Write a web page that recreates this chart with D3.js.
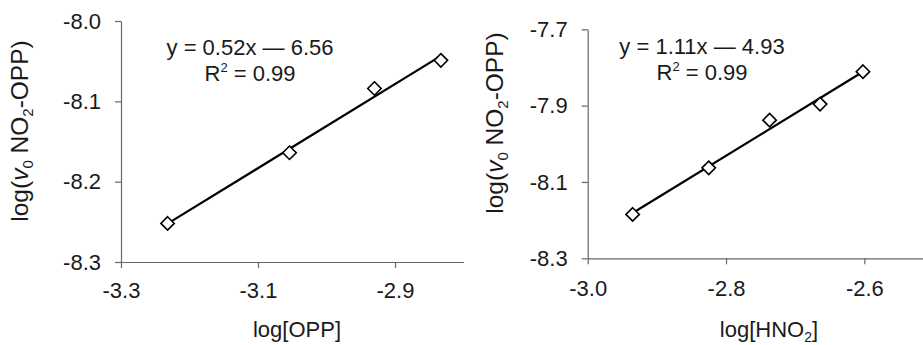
<!DOCTYPE html>
<html>
<head>
<meta charset="utf-8">
<script src="https://cdn.jsdelivr.net/npm/d3@7"></script>
<style>
  body { margin: 0; background: #fff; }
  text { font-family: "Liberation Sans", Arial, sans-serif; fill: #1a1a1a; }
  .axis path, .axis line { stroke: #666; stroke-width: 1.2; }
  .axis text { font-size: 22px; }
</style>
</head>
<body>
<div id="chart"></div>
<script>
// Data
var oppX = [-3.232, -3.054, -2.930, -2.833];
var oppY = [-8.252, -8.164, -8.084, -8.049];
var hno2X = [-2.935, -2.825, -2.737, -2.664, -2.602];
var hno2Y = [-8.185, -8.063, -7.938, -7.896, -7.811];

var oppXTicks = [-3.3, -3.1, -2.9];
var oppYTicks = [-8.0, -8.1, -8.2, -8.3];
var hno2XTicks = [-3.0, -2.8, -2.6];
var hno2YTicks = [-7.7, -7.9, -8.1, -8.3];

var oppEq = ["y = 0.52x \u2014 6.56", "0.99"];
var hno2Eq = ["y = 1.11x \u2014 4.93", "0.99"];

var svgWidth = 923;
var svgHeight = 345;

var svg = d3.select("#chart")
    .append("svg")
    .attr("width", svgWidth)
    .attr("height", svgHeight);

// least squares line through the points
function fit(xs, ys) {
    var mx = d3.mean(xs), my = d3.mean(ys);
    var sxy = d3.sum(xs, (x, i) => (x - mx) * (ys[i] - my));
    var sxx = d3.sum(xs, x => (x - mx) * (x - mx));
    var b = sxy / sxx;
    return { b: b, a: my - b * mx };
}

function panel(cfg) {
    var x = d3.scaleLinear().domain(cfg.xDomain).range(cfg.xRange);
    var y = d3.scaleLinear().domain(cfg.yDomain).range(cfg.yRange);

    // x axis
    var gx = svg.append("g")
        .attr("class", "axis")
        .attr("transform", `translate(0, ${cfg.yRange[0]})`)
        .call(d3.axisBottom(x).tickValues(cfg.xTicks)
            .tickSize(6).tickSizeOuter(0).tickPadding(cfg.xPad));
    gx.selectAll("text").text(d => d3.format(".1f")(d).replace("\u2212", "-"));

    // y axis
    var gy = svg.append("g")
        .attr("class", "axis")
        .attr("transform", `translate(${cfg.xRange[0]}, 0)`)
        .call(d3.axisLeft(y).tickValues(cfg.yTicks)
            .tickSize(6).tickSizeOuter(0).tickPadding(cfg.yPad));
    gy.selectAll("text").text(d => d3.format(".1f")(d).replace("\u2212", "-"));

    // regression line
    var f = fit(cfg.xs, cfg.ys);
    var x0 = d3.min(cfg.xs), x1 = d3.max(cfg.xs);
    svg.append("line")
        .attr("x1", x(x0)).attr("y1", y(f.a + f.b * x0))
        .attr("x2", x(x1)).attr("y2", y(f.a + f.b * x1))
        .attr("stroke", "#000")
        .attr("stroke-width", 2.2);

    // diamond markers
    var pts = cfg.xs.map((d, i) => [d, cfg.ys[i]]);
    svg.selectAll(null)
        .data(pts)
        .enter()
        .append("path")
        .attr("d", d3.symbol().type(d3.symbolDiamond2).size(115))
        .attr("transform", d => `translate(${x(d[0])}, ${y(d[1])})`)
        .attr("fill", "#fff")
        .attr("stroke", "#000")
        .attr("stroke-width", 1.6);

    // equation
    svg.append("text")
        .attr("x", cfg.eqX).attr("y", cfg.eqY)
        .attr("text-anchor", "middle")
        .attr("font-size", "22px")
        .text(cfg.eq[0]);
    var r2 = svg.append("text")
        .attr("x", cfg.eqX).attr("y", cfg.eqY + 26)
        .attr("text-anchor", "middle")
        .attr("font-size", "22px");
    r2.append("tspan").text("R");
    r2.append("tspan").attr("font-size", "13px").attr("dy", "-9").text("2");
    r2.append("tspan").attr("dy", "9").text(" = " + cfg.eq[1]);

    // x title
    var xt = svg.append("text")
        .attr("x", cfg.xTitleX).attr("y", 337)
        .attr("text-anchor", "middle")
        .attr("font-size", "22px");
    xt.append("tspan").text(cfg.xTitle);
    if (cfg.xSub) {
        xt.append("tspan").attr("font-size", "14px").attr("dy", "5").text(cfg.xSub);
        xt.append("tspan").attr("dy", "-5").text("]");
    }

    // y title
    var yt = svg.append("text")
        .attr("transform", `translate(${cfg.yTitleX}, ${cfg.yTitleY}) rotate(-90)`)
        .attr("text-anchor", "middle")
        .attr("font-size", "24.5px");
    yt.append("tspan").text("log(");
    yt.append("tspan").attr("font-style", "italic").text("v");
    yt.append("tspan").attr("font-size", "15px").attr("dy", "5").text("0");
    yt.append("tspan").attr("dy", "-5").text(" NO");
    yt.append("tspan").attr("font-size", "15px").attr("dy", "5").text("2");
    yt.append("tspan").attr("dy", "-5").text("-OPP)");
}

panel({
    xs: oppX, ys: oppY,
    xDomain: [-3.3, -2.8], xRange: [121, 463.5],
    yDomain: [-8.3, -8.0], yRange: [262, 21],
    xTicks: oppXTicks, yTicks: oppYTicks,
    xPad: 14, yPad: 14,
    eq: oppEq, eqX: 250, eqY: 54.5,
    xTitle: "log[OPP]", xTitleX: 297,
    yTitleX: 28, yTitleY: 131
});

panel({
    xs: hno2X, ys: hno2Y,
    xDomain: [-3.0, -2.5], xRange: [587.7, 933.5],
    yDomain: [-8.3, -7.7], yRange: [258.3, 29.3],
    xTicks: hno2XTicks, yTicks: hno2YTicks,
    xPad: 16, yPad: 14,
    eq: hno2Eq, eqX: 702, eqY: 53.5,
    xTitle: "log[HNO", xSub: "2", xTitleX: 769,
    yTitleX: 503, yTitleY: 123
});
</script>
</body>
</html>
